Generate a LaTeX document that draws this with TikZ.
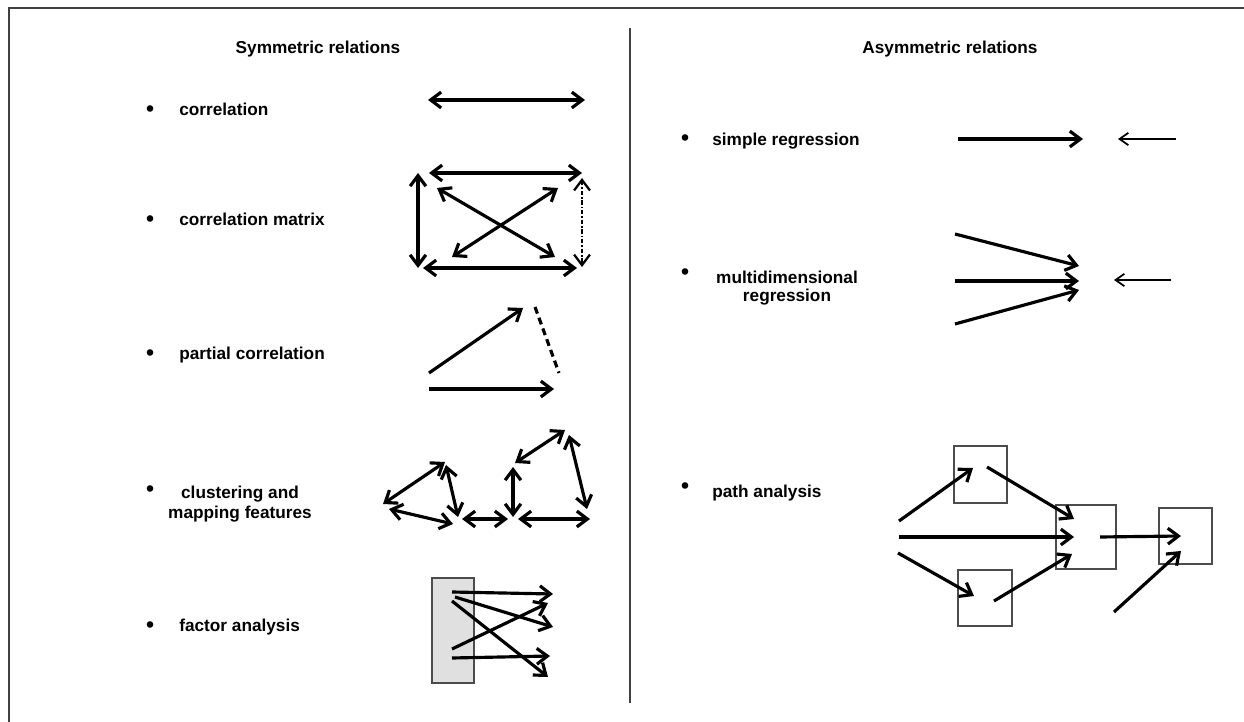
\documentclass[tikz,border=0pt]{standalone}
\usepackage{fontspec}
\setmainfont{Liberation Sans}
\usepackage{tikz}
\usetikzlibrary{arrows.meta,positioning}
\newcommand{\lblfont}{\bfseries\fontsize{9.8}{11.3}\selectfont}
\tikzstyle{heading} = [draw=none, fill=none, text centered, anchor=base, inner sep=0pt, font=\lblfont]
\tikzstyle{item}    = [draw=none, fill=none, anchor=base west, inner sep=0pt, font=\lblfont]
\tikzstyle{bul}     = [draw=none, fill=none, anchor=base, inner sep=0pt, font=\bfseries\fontsize{13}{13}\selectfont]
\tikzstyle{tedge}   = [draw, line width=1.8pt, -{Straight Barb[length=6pt,width=9pt]}]
\tikzstyle{dedge}   = [draw, line width=1.8pt, {Straight Barb[length=6pt,width=9pt]}-{Straight Barb[length=6pt,width=9pt]}]
\tikzstyle{nedge}   = [draw, line width=1pt, -{Straight Barb[length=5pt,width=7pt]}]
\tikzstyle{pbox}    = [rectangle, draw=black!70, line width=0.6pt, inner sep=0pt, outer sep=0pt]
\tikzstyle{fbox}    = [pbox, fill=black!12]
\tikzstyle{frame}   = [draw=black!75, line width=0.8pt]

\begin{document}
\begin{tikzpicture}[x=0.02cm, y=-0.02cm]
\useasboundingbox (0,0) rectangle (1244,722);

% frame ==================================
\coordinate (f-tr) at (1244,8);
\coordinate (f-tl) at (9,8);
\coordinate (f-bl) at (9,722);
\coordinate (sep-t) at (630,28);
\coordinate (sep-b) at (630,703);
\path[frame] (f-tr) -- (f-tl) -- (f-bl);
\path[frame, line width=0.6pt] (sep-t) -- (sep-b);

% headings ===============================
\node[heading] (sym) at (318,54) {Symmetric relations};
\node[heading] (asym) at (950,54) {Asymmetric relations};

% left column items ======================
\node[bul] (b1) at (150,117) {\textbullet};
\node[item] (corr) at (179,116) {correlation};
\node[bul] (b2) at (150,227) {\textbullet};
\node[item] (matrix) at (179,226) {correlation matrix};
\node[bul] (b3) at (150,361) {\textbullet};
\node[item] (partial) at (179,360) {partial correlation};
\node[bul] (b4) at (150,497) {\textbullet};
\node[heading, align=center, font=\bfseries\fontsize{9.8}{11.3}\selectfont] (cluster) at (240,518.5) {clustering and\\mapping features};
\node[bul] (b5) at (150,632) {\textbullet};
\node[item] (factor) at (179,631) {factor analysis};

% right column items =====================
\node[bul] (b6) at (685,146) {\textbullet};
\node[item] (simple) at (712,146) {simple regression};
\node[bul] (b7) at (685,280) {\textbullet};
\node[heading, align=center, font=\bfseries\fontsize{9.8}{10.6}\selectfont] (multi) at (787,302) {multidimensional\\regression};
\node[bul] (b8) at (685,494) {\textbullet};
\node[item] (path) at (712,498) {path analysis};

% correlation ============================
\coordinate (co-l) at (428,100); \coordinate (co-r) at (585,100);
\path[dedge] (co-l) -- (co-r);

% correlation matrix =====================
\coordinate (mt-l) at (429,173); \coordinate (mt-r) at (582,173);
\coordinate (mb-l) at (423,268); \coordinate (mb-r) at (577,268);
\coordinate (ml-t) at (418,173); \coordinate (ml-b) at (418,268);
\coordinate (mr-t) at (582,178); \coordinate (mr-b) at (582,267);
\coordinate (md1-a) at (437,188); \coordinate (md1-b) at (555,257);
\coordinate (md2-a) at (452,257); \coordinate (md2-b) at (558,188);
\path[dedge] (mt-l) -- (mt-r);
\path[dedge] (mb-l) -- (mb-r);
\path[dedge] (ml-t) -- (ml-b);
\path[dedge, line width=1.3pt, dash pattern=on 2.5pt off 1pt on 1pt off 1pt] (mr-t) -- (mr-b);
\path[dedge] (md1-a) -- (md1-b);
\path[dedge] (md2-a) -- (md2-b);

% partial correlation ====================
\coordinate (pa-a) at (429,373); \coordinate (pa-b) at (523,308);
\coordinate (pb-a) at (429,389); \coordinate (pb-b) at (554,389);
\coordinate (pc-a) at (535,307); \coordinate (pc-b) at (559,373);
\path[tedge] (pa-a) -- (pa-b);
\path[tedge] (pb-a) -- (pb-b);
\path[draw, line width=1.8pt, dash pattern=on 4pt off 2.5pt] (pc-a) -- (pc-b);

% clustering =============================
\coordinate (ca-a) at (383,504); \coordinate (ca-b) at (445,462);
\coordinate (cb-a) at (446,465); \coordinate (cb-b) at (458,517);
\coordinate (cc-a) at (389,509); \coordinate (cc-b) at (453,524);
\coordinate (cd-a) at (462,519); \coordinate (cd-b) at (508,519);
\coordinate (ce-a) at (513,467); \coordinate (ce-b) at (513,517);
\coordinate (cf-a) at (515,463); \coordinate (cf-b) at (565,430);
\coordinate (cg-a) at (569,435); \coordinate (cg-b) at (587,509);
\coordinate (ch-a) at (518,519); \coordinate (ch-b) at (590,519);
\path[dedge] (ca-a) -- (ca-b);
\path[dedge] (cb-a) -- (cb-b);
\path[dedge] (cc-a) -- (cc-b);
\path[dedge] (cd-a) -- (cd-b);
\path[dedge] (ce-a) -- (ce-b);
\path[dedge] (cf-a) -- (cf-b);
\path[dedge] (cg-a) -- (cg-b);
\path[dedge] (ch-a) -- (ch-b);

% factor analysis ========================
\node[fbox, minimum width=0.84cm, minimum height=2.1cm] (fac) at (453,630.5) {};
\coordinate (f1-a) at (452,592); \coordinate (f1-b) at (553,594);
\coordinate (f2-a) at (455,597); \coordinate (f2-b) at (553,627);
\coordinate (f3-a) at (452,601); \coordinate (f3-b) at (548,677);
\coordinate (f4-a) at (452,649); \coordinate (f4-b) at (548,603);
\coordinate (f5-a) at (452,658); \coordinate (f5-b) at (550,656);
\path[tedge] (f1-a) -- (f1-b);
\path[tedge] (f2-a) -- (f2-b);
\path[tedge] (f3-a) -- (f3-b);
\path[tedge] (f4-a) -- (f4-b);
\path[tedge] (f5-a) -- (f5-b);

% simple regression ======================
\coordinate (sr-a) at (958,139); \coordinate (sr-b) at (1083,139);
\coordinate (se-a) at (1176,139); \coordinate (se-b) at (1118,139);
\path[tedge] (sr-a) -- (sr-b);
\path[nedge] (se-a) -- (se-b);

% multidimensional regression ============
\coordinate (mr1-a) at (955,234); \coordinate (mr1-b) at (1079,266);
\coordinate (mr2-a) at (955,281); \coordinate (mr2-b) at (1079,281);
\coordinate (mr3-a) at (955,324); \coordinate (mr3-b) at (1079,290);
\coordinate (me-a) at (1171,280); \coordinate (me-b) at (1114,280);
\path[tedge] (mr1-a) -- (mr1-b);
\path[tedge] (mr2-a) -- (mr2-b);
\path[tedge] (mr3-a) -- (mr3-b);
\path[nedge] (me-a) -- (me-b);

% path analysis ==========================
\node[pbox, minimum width=1.06cm, minimum height=1.14cm] (top) at (980.5,474.5) {};
\node[pbox, minimum width=1.2cm, minimum height=1.28cm] (mid) at (1086,537) {};
\node[pbox, minimum width=1.08cm, minimum height=1.12cm] (bot) at (985,598) {};
\node[pbox, minimum width=1.06cm, minimum height=1.12cm] (out) at (1185.5,536) {};
\coordinate (pa1-a) at (899,521);  \coordinate (pa1-b) at (973,468);
\coordinate (pa2-a) at (987,467);  \coordinate (pa2-b) at (1074,519);
\coordinate (pa3-a) at (899,537);  \coordinate (pa3-b) at (1074,537);
\coordinate (pa4-a) at (898,553);  \coordinate (pa4-b) at (974,596);
\coordinate (pa5-a) at (994,601);  \coordinate (pa5-b) at (1072,554);
\coordinate (pa6-a) at (1100,537); \coordinate (pa6-b) at (1181,536);
\coordinate (pa7-a) at (1114,612); \coordinate (pa7-b) at (1181,551);
\path[tedge] (pa1-a) -- (pa1-b);
\path[tedge] (pa2-a) -- (pa2-b);
\path[tedge] (pa3-a) -- (pa3-b);
\path[tedge] (pa4-a) -- (pa4-b);
\path[tedge] (pa5-a) -- (pa5-b);
\path[tedge] (pa6-a) -- (pa6-b);
\path[tedge] (pa7-a) -- (pa7-b);

\end{tikzpicture}
\end{document}
